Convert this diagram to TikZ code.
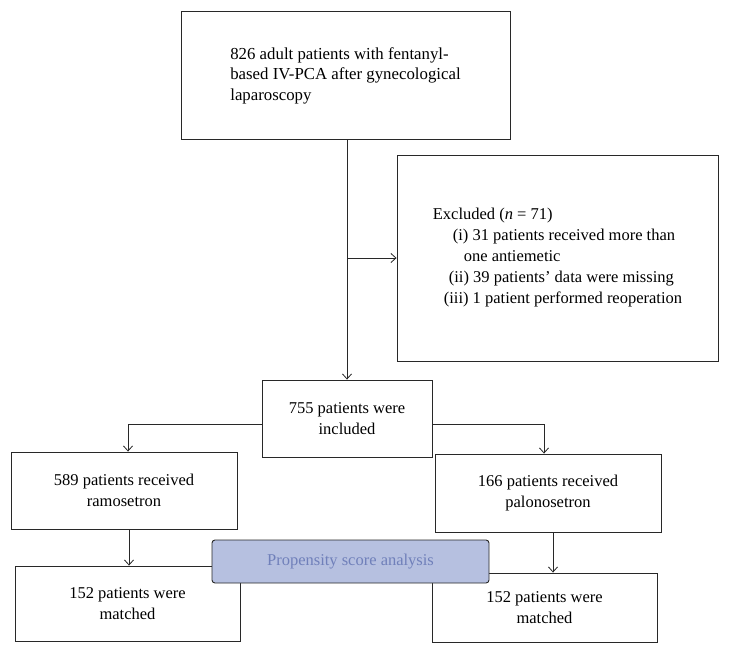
\documentclass[tikz,border=0pt]{standalone}
\usepackage{fontspec}
\setmainfont{Liberation Serif}
\usetikzlibrary{arrows.meta}
\definecolor{propfill}{RGB}{182,192,224}
\definecolor{proptext}{RGB}{112,128,186}
\definecolor{lin}{RGB}{40,40,40}
\begin{document}
\begin{tikzpicture}[x=1pt,y=-1pt,
  box/.style={draw=lin, line width=0.9pt, inner sep=0pt, fill=white, font=\fontsize{16.5}{21}\selectfont, align=center},
  arr/.style={draw=lin, line width=0.8pt, -{Straight Barb[length=5pt,width=9pt]}}]
\useasboundingbox (0,0) rectangle (729,654);
\node[box, minimum width=329pt, minimum height=128pt, align=left, font=\fontsize{16.8}{20.5}\selectfont] (top) at (345.5,75.5)
  {826 adult patients with fentanyl-\\based IV-PCA after gynecological\\laparoscopy};
\node[box, minimum width=321pt, minimum height=206pt, align=left] (excl) at (557.5,258)
  {Excluded (\textit{n} = 71)\\
   \hspace*{20pt}(i) 31 patients received more than\\
   \hspace*{31pt}one antiemetic\\
   \hspace*{16pt}(ii) 39 patients’ data were missing\\
   \hspace*{11pt}(iii) 1 patient performed reoperation};
\node[box, minimum width=170pt, minimum height=77pt] (incl) at (347,418.5)
  {755 patients were\\included};
\node[box, minimum width=226pt, minimum height=77pt] (ram) at (124,490.5)
  {589 patients received\\ramosetron};
\node[box, minimum width=226pt, minimum height=78pt] (palo) at (548,493)
  {166 patients received\\palonosetron};
\node[box, minimum width=225pt, minimum height=75pt] (m1) at (127.5,603.5)
  {152 patients were\\matched};
\node[box, minimum width=225pt, minimum height=69pt] (m2) at (544.5,607.5)
  {152 patients were\\matched};
\node[draw=lin, line width=0.9pt, fill=propfill, rounded corners=3pt, inner sep=0pt,
  minimum width=277pt, minimum height=43pt, text=proptext, font=\fontsize{16.5}{20}\selectfont] (prop) at (350.5,561.5)
  {Propensity score analysis};
\coordinate (brk) at (incl.north |- excl.west);
\draw[arr] (incl.north |- top.south) -- (incl.north);
\draw[arr] (brk) -- (excl.west);
\draw[arr] ([yshift=-5.5pt]incl.west) -| ([xshift=4pt]ram.north);
\draw[arr] ([yshift=-5.5pt]incl.east) -| ([xshift=-4pt]palo.north);
\draw[arr] ([xshift=1.5pt]m1.north |- ram.south) -- ([xshift=1.5pt]m1.north);
\draw[arr] ([xshift=5pt]palo.south) -- ([xshift=5pt]palo.south |- m2.north);
\end{tikzpicture}
\end{document}
